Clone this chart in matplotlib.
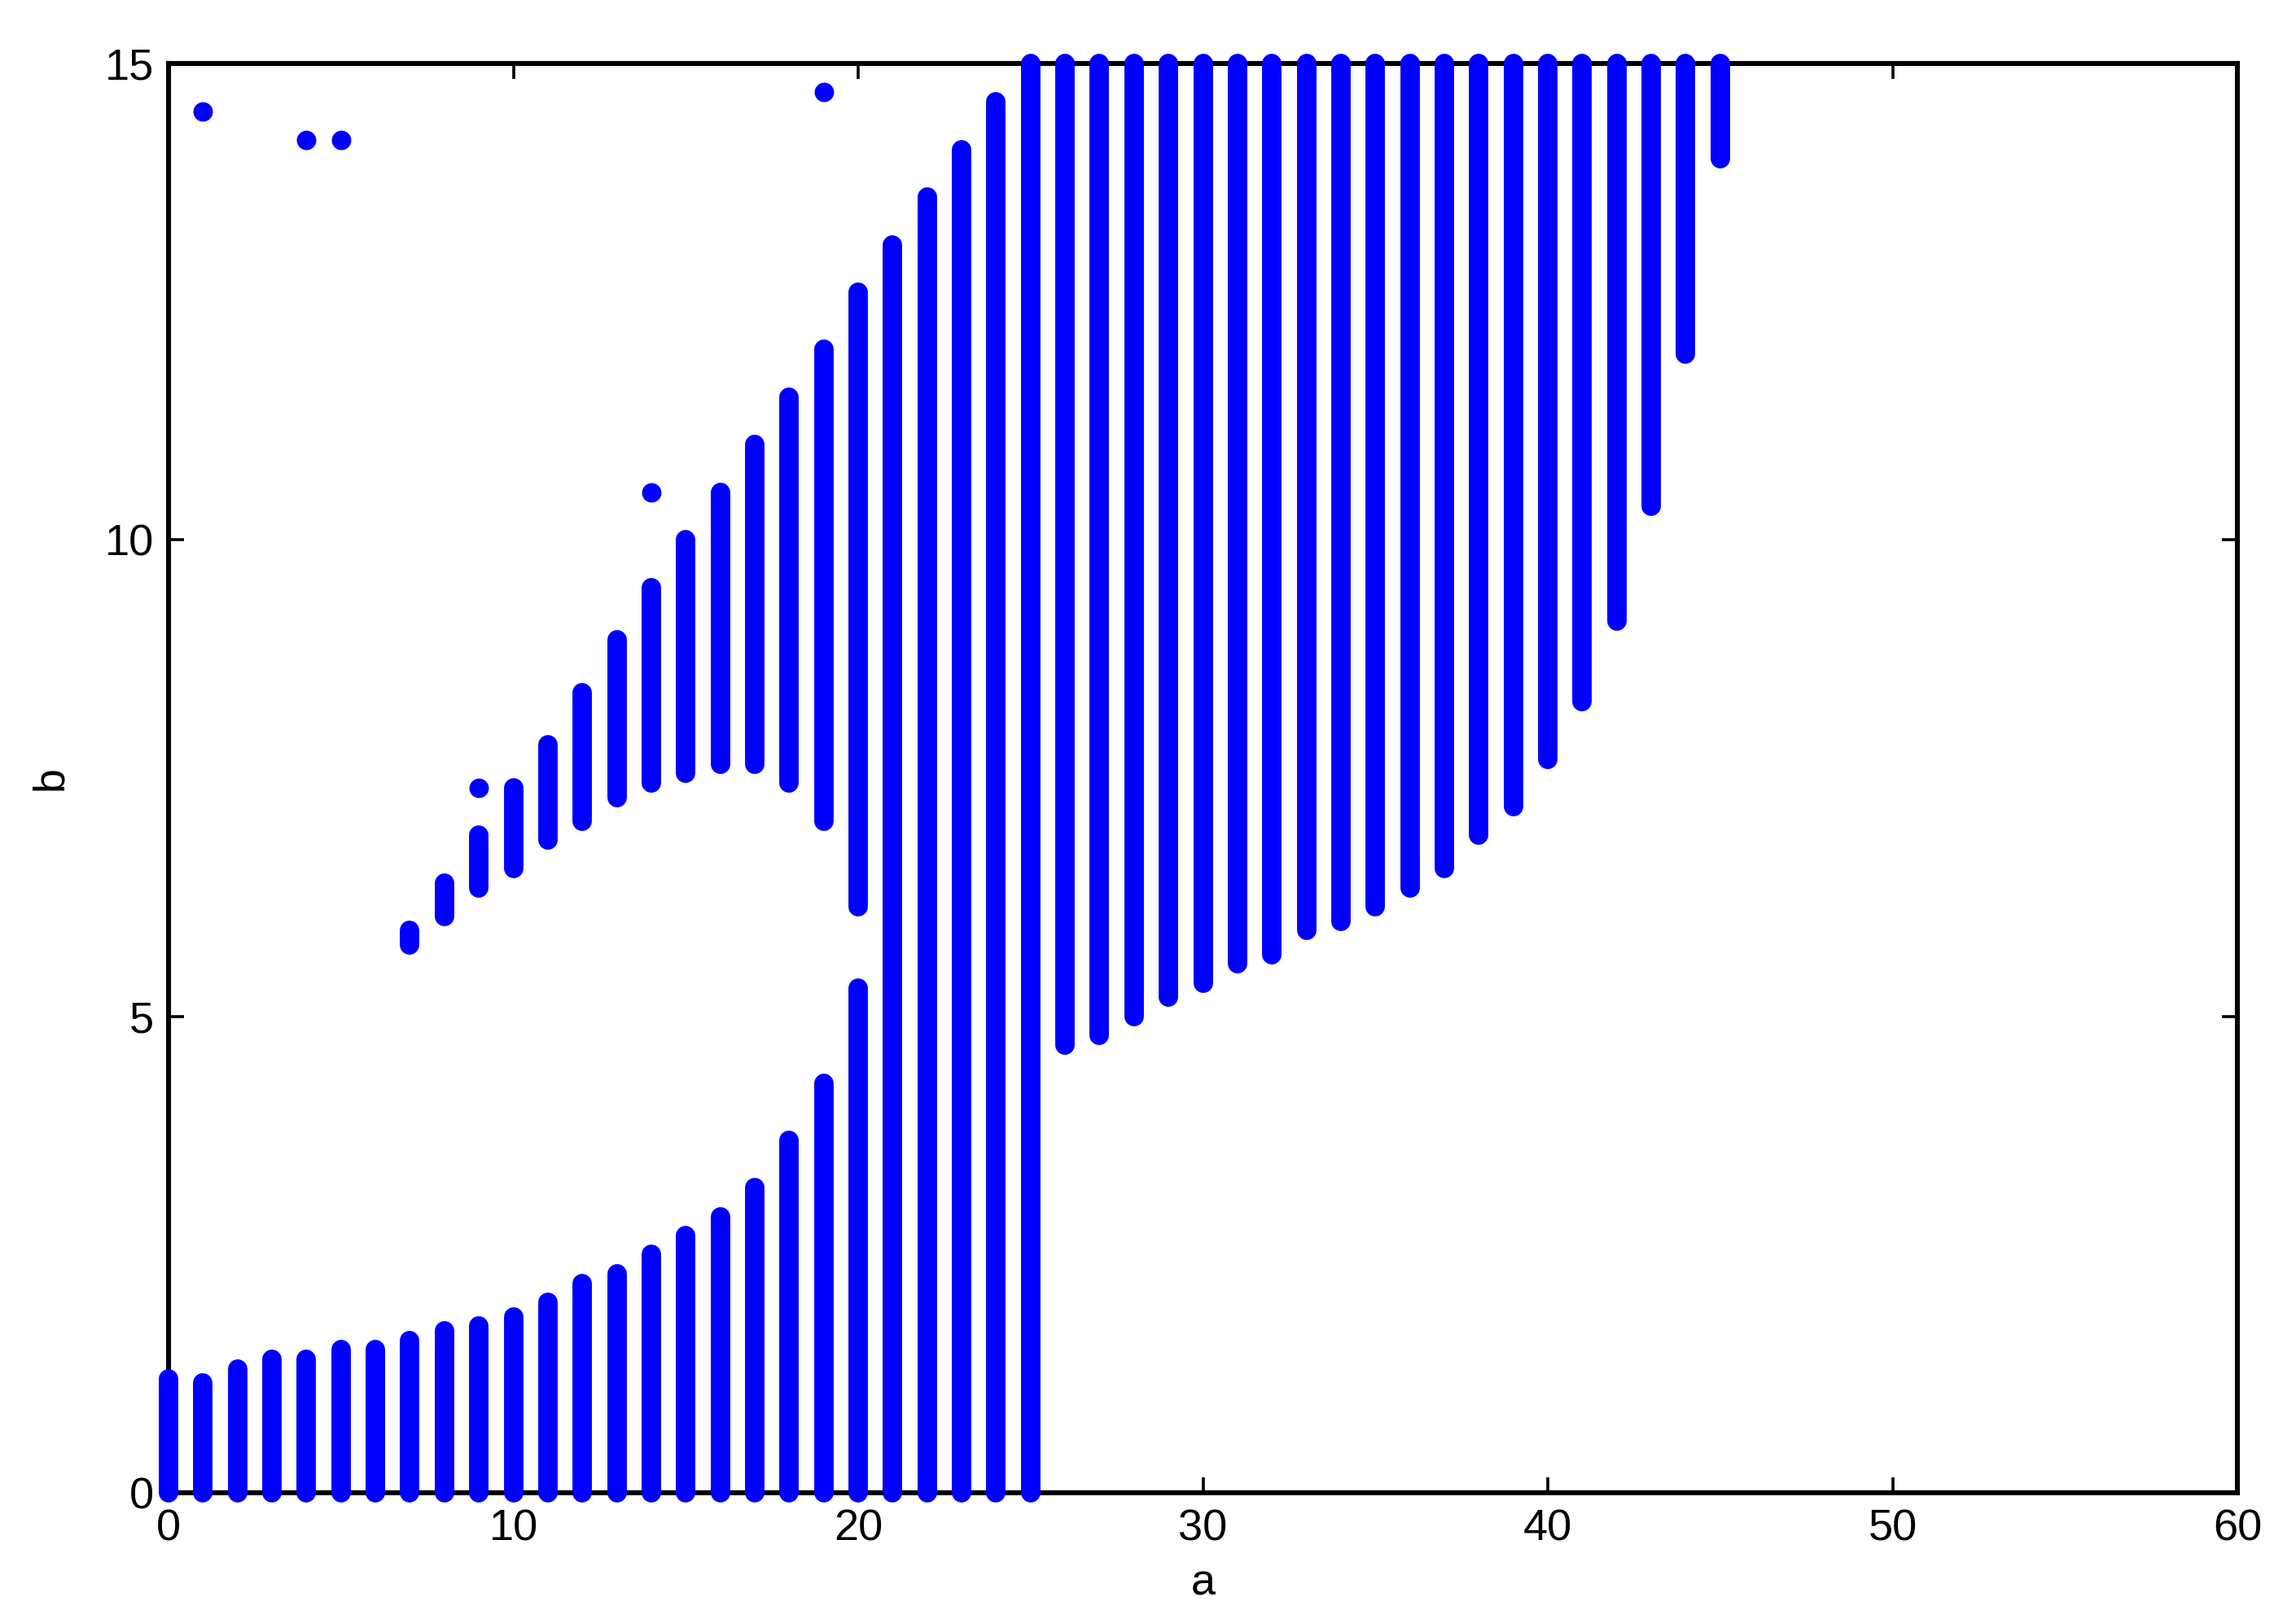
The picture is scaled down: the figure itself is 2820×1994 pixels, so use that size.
import numpy as np
import matplotlib
matplotlib.use("Agg")
from matplotlib import pyplot as plt

plt.rcParams['font.family'] = ['Liberation Sans', 'DejaVu Sans']

# lower branch: columns from b=0 up to the given top, a = 0..25
low_a = list(range(0, 26))
low_top = [1.2, 1.15, 1.3, 1.4, 1.4, 1.5, 1.5, 1.6, 1.7, 1.75,
           1.85, 2.0, 2.2, 2.3, 2.5, 2.7, 2.9, 3.2, 3.7, 4.3,
           5.3, 13.1, 13.6, 14.1, 14.6, 15.0]

# upper branch (separate segment above the gap), a = 7..20
mid_a = list(range(7, 21))
mid_lo = [5.75, 6.05, 6.35, 6.55, 6.85, 7.05, 7.3, 7.45, 7.55, 7.65, 7.65, 7.45, 7.05, 6.15]
mid_hi = [5.9, 6.4, 6.9, 7.4, 7.85, 8.4, 8.95, 9.5, 10.0, 10.5, 11.0, 11.5, 12.0, 12.6]

# right part: columns from the given bottom up to b=15, a = 26..45
high_a = list(range(26, 46))
high_lo = [4.7, 4.8, 5.0, 5.2, 5.35, 5.55, 5.65, 5.9, 6.0, 6.15,
           6.35, 6.55, 6.9, 7.2, 7.7, 8.3, 9.15, 10.35, 11.95, 14.0]
high_top = 15.0

# single points
dot_a = [1, 4, 5, 9, 14, 19]
dot_b = [14.5, 14.2, 14.2, 7.4, 10.5, 14.7]

col = (0, 0, 1)
lw = 8.6

fig = plt.figure(figsize=(14.1, 9.97), dpi=200)
ax = fig.add_axes([0.0734, 0.0802, 0.9011, 0.8806])

ax.vlines(low_a, 0, low_top, colors=col, linewidth=lw, capstyle='round', clip_on=False, zorder=4)
ax.vlines(mid_a, mid_lo, mid_hi, colors=col, linewidth=lw, capstyle='round', clip_on=False, zorder=4)
ax.vlines(high_a, high_lo, high_top, colors=col, linewidth=lw, capstyle='round', clip_on=False, zorder=4)
ax.plot(dot_a, dot_b, 'o', color=col, markersize=lw, markeredgewidth=0, clip_on=False, zorder=4)

ax.set_xlim(0, 60)
ax.set_ylim(0, 15)
ax.set_xticks([0, 10, 20, 30, 40, 50, 60])
ax.set_yticks([0, 5, 10, 15])

for s in ax.spines.values():
    s.set_linewidth(2.2)
ax.tick_params(direction='in', top=True, right=True, length=7, width=1.3,
               labelsize=19.5)
ax.tick_params(axis='x', pad=7)
ax.tick_params(axis='y', pad=6.5)

ax.set_xlabel('a', fontsize=19.5, labelpad=6)
ax.set_ylabel('b', fontsize=19.5, labelpad=15)

fig.savefig('out.png', dpi=200)
